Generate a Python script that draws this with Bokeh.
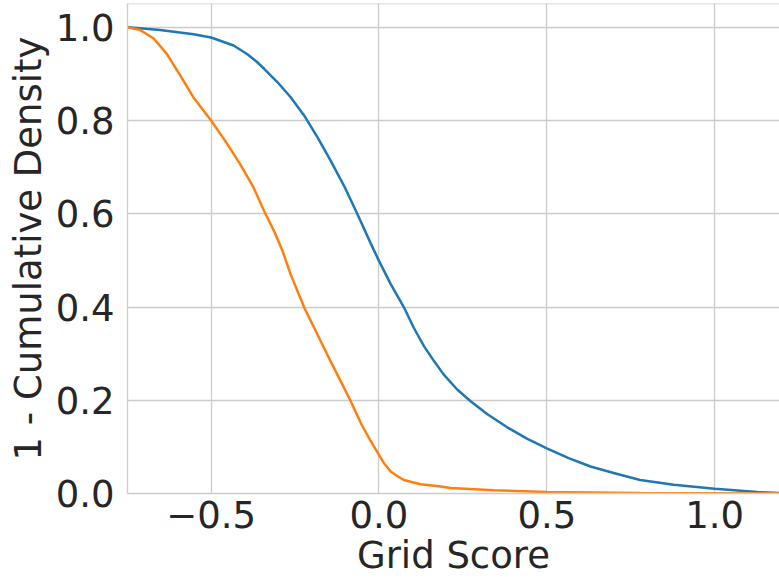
from bokeh.plotting import figure
from bokeh.models import Range1d, FixedTicker, Span
from bokeh.embed import file_html
from bokeh.resources import INLINE

# Series (x = grid score, y = 1 - cumulative density)
blue_x = [-0.749, -0.652, -0.552, -0.5, -0.433, -0.392, -0.364, -0.342, -0.302,
          -0.263, -0.223, -0.183, -0.144, -0.104, -0.064, -0.025, 0.0,
          0.035, 0.074, 0.104, 0.134, 0.164, 0.193, 0.233, 0.273, 0.323, 0.382,
          0.442, 0.5, 0.565, 0.63, 0.699, 0.778, 0.878, 1.0, 1.127, 1.193]
blue_y = [1.0, 0.994, 0.985, 0.978, 0.961, 0.942, 0.926, 0.911, 0.882,
          0.850, 0.811, 0.764, 0.714, 0.660, 0.599, 0.537, 0.499,
          0.449, 0.400, 0.355, 0.316, 0.284, 0.255, 0.223, 0.198, 0.170, 0.142,
          0.117, 0.097, 0.076, 0.058, 0.044, 0.029, 0.019, 0.010, 0.003, 0.001]

orange_x = [-0.749, -0.711, -0.671, -0.632, -0.592, -0.553, -0.5, -0.453,
            -0.414, -0.374, -0.342, -0.3125, -0.287, -0.263, -0.222, -0.188,
            -0.154, -0.119, -0.084, -0.054, -0.035, -0.015, 0.0, 0.015, 0.035,
            0.055, 0.074, 0.124, 0.184, 0.213, 0.342, 0.5, 0.778, 1.0, 1.193]
orange_y = [1.0, 0.994, 0.976, 0.943, 0.897, 0.850, 0.80, 0.751,
            0.707, 0.657, 0.606, 0.563, 0.52, 0.470, 0.398, 0.348,
            0.298, 0.248, 0.198, 0.151, 0.126, 0.101, 0.083, 0.065, 0.047,
            0.037, 0.029, 0.020, 0.015, 0.012, 0.007, 0.003, 0.001, 0.0005, 0.0]

x_ticks = [-0.5, 0.0, 0.5, 1.0]
x_tick_labels = ["\u22120.5", "0.0", "0.5", "1.0"]
y_ticks = [0.0, 0.2, 0.4, 0.6, 0.8, 1.0]
y_tick_labels = ["0.0", "0.2", "0.4", "0.6", "0.8", "1.0"]
x_label = "Grid Score"
y_label = "1 - Cumulative Density"

x_min, x_max = -0.749, 1.193
y_min, y_max = 0.0, 1.051

FONT = "DejaVu Sans"
FS = "37px"
TXT = "#262626"
GRID = "#cccccc"

p = figure(width=779, height=579, output_backend="svg", toolbar_location=None,
           x_range=Range1d(x_min, x_max), y_range=Range1d(y_min, y_max),
           min_border_left=127, min_border_right=0, min_border_top=3,
           min_border_bottom=86)
p.background_fill_color = "white"
p.border_fill_color = "white"
p.outline_line_color = None

p.line(blue_x, blue_y, line_color="#1f77b4", line_width=2.5)
p.line(orange_x, orange_y, line_color="#ff7f0e", line_width=2.5)

p.xaxis.ticker = FixedTicker(ticks=x_ticks)
p.yaxis.ticker = FixedTicker(ticks=y_ticks)
p.xaxis.major_label_overrides = {t: l for t, l in zip(x_ticks, x_tick_labels)}
p.yaxis.major_label_overrides = {t: l for t, l in zip(y_ticks, y_tick_labels)}

for ax in (p.xaxis[0], p.yaxis[0]):
    ax.major_tick_line_color = None
    ax.minor_tick_line_color = None
    ax.major_tick_out = 0
    ax.major_tick_in = 0
    ax.axis_line_color = GRID
    ax.axis_line_width = 1.3
    ax.major_label_text_font = FONT
    ax.major_label_text_font_size = FS
    ax.major_label_text_color = TXT
    ax.axis_label_text_font = FONT
    ax.axis_label_text_font_size = FS
    ax.axis_label_text_font_style = "normal"
    ax.axis_label_text_color = TXT

p.xaxis.axis_label = x_label
p.yaxis.axis_label = y_label
p.xaxis.major_label_standoff = 7
p.xaxis.axis_label_standoff = 3
p.yaxis.major_label_standoff = 13
p.yaxis.axis_label_standoff = 3

p.xgrid.grid_line_color = GRID
p.ygrid.grid_line_color = GRID
p.xgrid.grid_line_width = 1.3
p.ygrid.grid_line_width = 1.3

p.add_layout(Span(location=y_max, dimension="width", line_color=GRID, line_width=1.3))

open("out.html", "w").write(file_html(p, INLINE))
